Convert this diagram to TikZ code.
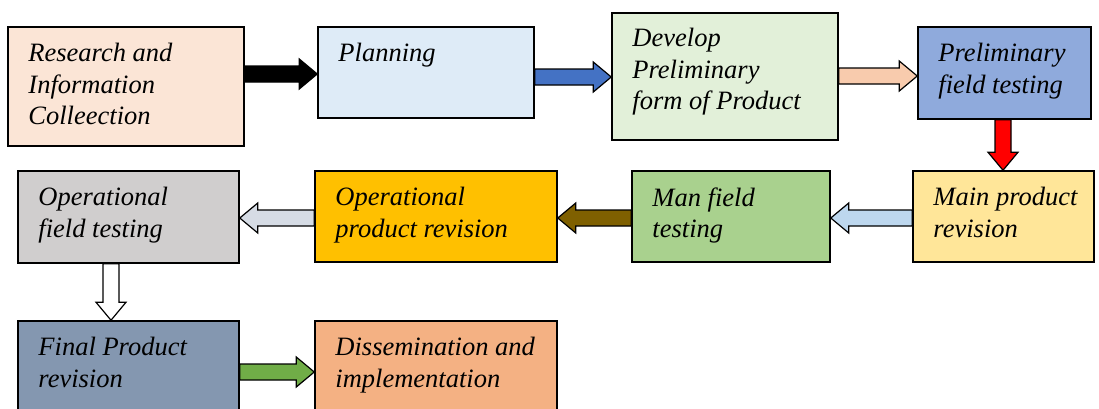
\documentclass[tikz,border=0pt]{standalone}
\usepackage{fontspec}
\setmainfont{Liberation Serif}[ItalicFont={Liberation Serif Italic}]
\usetikzlibrary{calc}

\definecolor{peachbox}{HTML}{FBE5D6}
\definecolor{bluebox}{HTML}{DEEBF7}
\definecolor{greenbox}{HTML}{E2F0D9}
\definecolor{prelbox}{HTML}{8FAADC}
\definecolor{yellowbox}{HTML}{FFE699}
\definecolor{manbox}{HTML}{A9D18E}
\definecolor{goldbox}{HTML}{FFC000}
\definecolor{greybox}{HTML}{D0CECE}
\definecolor{slatebox}{HTML}{8497B0}
\definecolor{orangebox}{HTML}{F4B183}
\definecolor{bluearr}{HTML}{4472C4}
\definecolor{peacharr}{HTML}{F8CBAD}
\definecolor{lightarr}{HTML}{BDD7EE}
\definecolor{brownarr}{HTML}{7F6000}
\definecolor{greyarr}{HTML}{D6DCE5}
\definecolor{greenarr}{HTML}{70AD47}

\newcommand{\blockarrow}[3]{%
  \coordinate (tipbase) at ($#2!18pt!#1$);
  \draw[line width=1.2pt, fill=#3] ($#1!8pt!90:#2$) -- ($(tipbase)!8pt!90:#2$)
    -- ($(tipbase)!15pt!90:#2$) -- #2 -- ($(tipbase)!15pt!-90:#2$)
    -- ($(tipbase)!8pt!-90:#2$) -- ($#1!8pt!-90:#2$) -- cycle;}

\begin{document}
\begin{tikzpicture}[x=1pt,y=-1pt,
    lbl/.style={anchor=north west,inner sep=0pt,align=left,
      font=\fontsize{26.5}{31.5}\selectfont\itshape}]

        \useasboundingbox (0,0) rectangle (1099,408);

        \begin{scope}[every node/.style={rectangle,draw,line width=1.5pt,inner sep=0pt}]
          \node[fill=peachbox,  minimum width=236pt, minimum height=119pt] (res)     at (126,86.5)   {};
          \node[fill=bluebox,   minimum width=216pt, minimum height=91pt]  (plan)    at (426,72.5)   {};
          \node[fill=greenbox,  minimum width=226pt, minimum height=127pt] (dev)     at (725,76.5)   {};
          \node[fill=prelbox,   minimum width=173pt, minimum height=92pt]  (prel)    at (1004.5,73)  {};
          \node[fill=yellowbox, minimum width=181pt, minimum height=91pt]  (mainrev) at (1003.5,216.5) {};
          \node[fill=manbox,    minimum width=198pt, minimum height=91pt]  (manft)   at (731,216.5)  {};
          \node[fill=goldbox,   minimum width=242pt, minimum height=91pt]  (oprev)   at (436,216.5)  {};
          \node[fill=greybox,   minimum width=221pt, minimum height=92pt]  (opft)    at (128.5,217)  {};
          \node[fill=slatebox,  minimum width=221pt, minimum height=92pt]  (finrev)  at (128.5,367)  {};
          \node[fill=orangebox, minimum width=242pt, minimum height=92pt]  (diss)    at (436,367)    {};
        \end{scope}

        \node[lbl] (res-t)     at ($(res.north west)+(21,17)$)     {Research and\\Information\\Colleection};
        \node[lbl] (plan-t)    at ($(plan.north west)+(21,17)$)    {Planning};
        \node[lbl] (dev-t)     at ($(dev.north west)+(21,16)$)     {Develop\\Preliminary\\form of Product};
        \node[lbl] (prel-t)    at ($(prel.north west)+(21,17)$)    {Preliminary\\field testing};
        \node[lbl] (mainrev-t) at ($(mainrev.north west)+(21,17)$) {Main product\\revision};
        \node[lbl] (manft-t)   at ($(manft.north west)+(21,17)$)   {Man field\\testing};
        \node[lbl] (oprev-t)   at ($(oprev.north west)+(21,17)$)   {Operational\\product revision};
        \node[lbl] (opft-t)    at ($(opft.north west)+(21,17)$)    {Operational\\field testing};
        \node[lbl] (finrev-t)  at ($(finrev.north west)+(21,17)$)  {Final Product\\revision};
        \node[lbl] (diss-t)    at ($(diss.north west)+(21,17)$)    {Dissemination and\\implementation};

        \blockarrow{(res.east |- 0,74)}{(plan.west |- 0,74)}{black}
        \blockarrow{(plan.east |- 0,77)}{(dev.west |- 0,77)}{bluearr}
        \blockarrow{(dev.east |- 0,76)}{(prel.west |- 0,76)}{peacharr}
        \blockarrow{(prel.south -| 1003,0)}{(mainrev.north -| 1003,0)}{red}
        \blockarrow{(mainrev.west |- 0,218)}{(manft.east |- 0,218)}{lightarr}
        \blockarrow{(manft.west |- 0,218)}{(oprev.east |- 0,218)}{brownarr}
        \blockarrow{(oprev.west |- 0,218)}{(opft.east |- 0,218)}{greyarr}
        \blockarrow{(opft.south -| 111,0)}{(finrev.north -| 111,0)}{white}
        \blockarrow{(finrev.east |- 0,372)}{(diss.west |- 0,372)}{greenarr}

      \end{tikzpicture}
\end{document}
